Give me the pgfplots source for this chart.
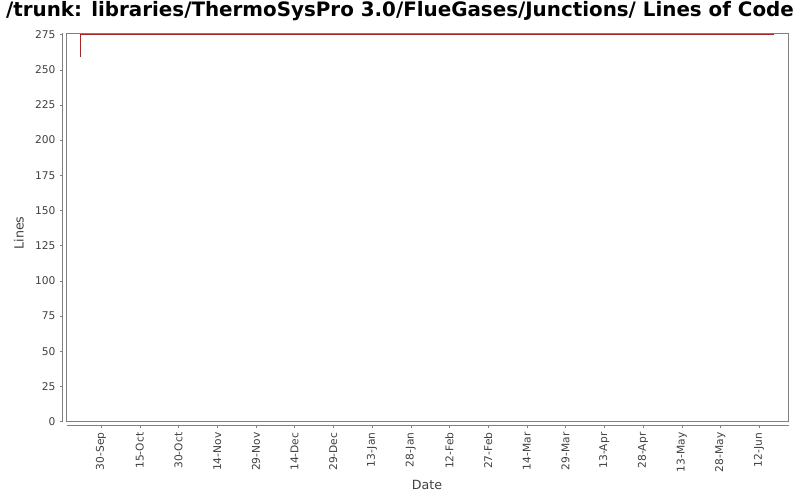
\documentclass[border=0pt]{standalone}
\usepackage{fontspec}
\setmainfont{DejaVu Sans}
\usepackage{pgfplots}
\pgfplotsset{compat=1.18}
\begin{document}
\begin{tikzpicture}
\useasboundingbox (0,0) rectangle (600pt,375pt);
\node[font=\bfseries\fontsize{14.9}{17}\selectfont] at (300pt,366.5pt) {/trunk: libraries/ThermoSysPro 3.0/FlueGases/Junctions/ Lines of Code};
\node[rotate=90, font=\fontsize{9.5}{11}\selectfont, text=darkgray] at (14.25pt,200.25pt) {Lines};
\node[font=\fontsize{9.5}{11}\selectfont, text=darkgray] at (320.25pt,11.25pt) {Date};
\begin{axis}[
  at={(49.875pt,58.875pt)}, anchor=south west,
  scale only axis, width=541.5pt, height=291pt,
  xmin=-13.4, xmax=266.4, ymin=0, ymax=275.7,
  axis line style={gray},
  xtick={0,15,...,255},
  xticklabels={30-Sep,15-Oct,30-Oct,14-Nov,29-Nov,14-Dec,29-Dec,13-Jan,28-Jan,12-Feb,27-Feb,14-Mar,29-Mar,13-Apr,28-Apr,13-May,28-May,12-Jun},
  ytick={0,25,...,275},
  xtick pos=bottom, ytick pos=left,
  tick align=outside, major tick length=1.8pt,
  xtick style={yshift=-3pt, gray},
  ytick style={xshift=-3pt, gray},
  xticklabel shift=3pt, yticklabel shift=3pt,
  /pgf/number format/assume math mode=true,
  x tick label style={rotate=90, anchor=east, font=\fontsize{8}{9}\selectfont, text=darkgray},
  y tick label style={font=\fontsize{8}{9}\selectfont, text=darkgray},
  clip=false,
]
\draw[gray] ([xshift=-3pt]rel axis cs:0,0) -- ([xshift=-3pt]rel axis cs:0,1);
\draw[gray] ([yshift=-3pt]rel axis cs:0,0) -- ([yshift=-3pt]rel axis cs:1,0);
\addplot[red, line width=0.9pt] coordinates {(-8,259) (-8,275) (260.6,275)};
\end{axis}
\end{tikzpicture}
\end{document}
